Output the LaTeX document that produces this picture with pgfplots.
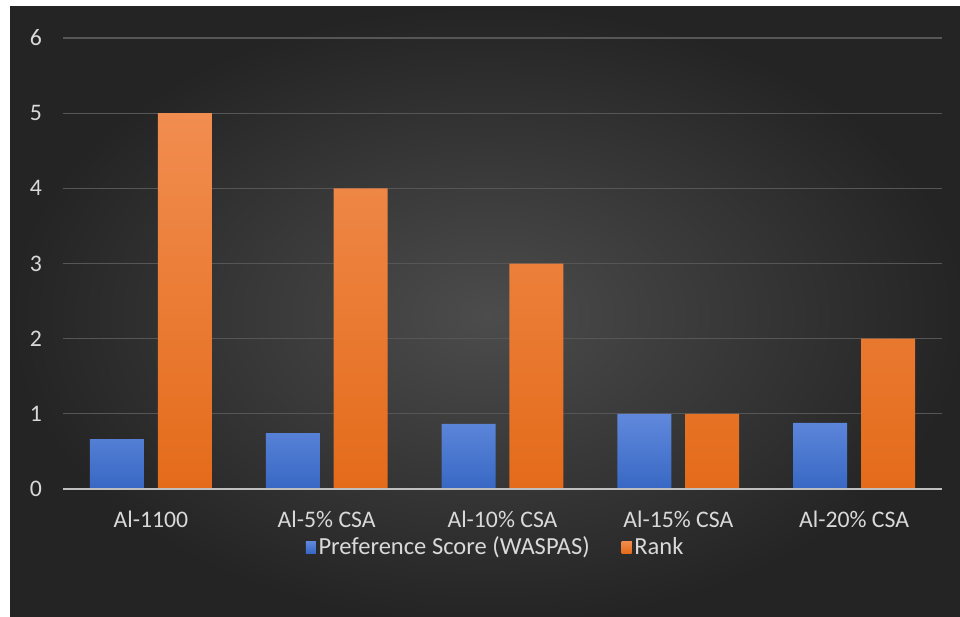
\documentclass[border=0pt]{standalone}
\usepackage{fontspec}
\setmainfont{Carlito}
\usepackage{pgfplots}
\pgfplotsset{compat=1.18}
\definecolor{bgin}{RGB}{76,76,76}
\definecolor{bgout}{RGB}{36,36,36}
\definecolor{gridc}{RGB}{86,86,86}
\definecolor{axisc}{RGB}{191,191,191}
\definecolor{labc}{RGB}{217,217,217}
\definecolor{blueT}{RGB}{96,137,220}
\definecolor{blueB}{RGB}{56,104,196}
\definecolor{blueL}{RGB}{68,114,214}
\definecolor{orT}{RGB}{241,141,80}
\definecolor{orB}{RGB}{228,107,26}
\definecolor{orL}{RGB}{237,125,49}
\begin{document}
\begin{tikzpicture}
\fill[white] (0,0) rectangle (720pt,-462.75pt);
\fill[bgout] (7.5pt,-5.25pt) rectangle (725pt,-468pt);
\begin{scope}
\clip (7.5pt,-5.25pt) rectangle (725pt,-468pt);
\shade[inner color=bgin, outer color=bgout] (7.5pt,-5.25pt) rectangle (725pt,-468pt);
\end{scope}
\begin{axis}[
  at={(47.25pt,-366.75pt)}, anchor=south west,
  scale only axis, width=659.25pt, height=338.25pt,
  xmin=-0.5, xmax=4.5, ymin=0, ymax=6,
  axis line style={draw=none},
  major tick length=0pt,
  ymajorgrids, grid style={color=gridc, line width=0.9pt},
  ytick={0,1,2,3,4,5,6},
  xtick={0,1,2,3,4},
  xticklabels={Al-1100, Al-5\% CSA, Al-10\% CSA, Al-15\% CSA, Al-20\% CSA},
  /pgf/number format/assume math mode=true,
  tick label style={font=\fontsize{17.8}{20}\selectfont, color=labc},
  xticklabel style={anchor=north, yshift=-13.2pt},
  yticklabel style={anchor=east, xshift=-12.3pt},
  ybar, bar width=0.307,
  legend columns=2,
  legend style={at={(0.4926,-0.1286)}, anchor=center, draw=none, fill=none,
    font=\fontsize{18.4}{20}\selectfont, text=labc,
    /tikz/every even column/.append style={column sep=22pt}},
]
\addplot[draw=none, top color=blueT, bottom color=blueB, bar shift=-0.193,
  legend image code/.code={\fill[blueL] (0pt,-4.5pt) rectangle (7.5pt,4.5pt);}]
  coordinates {(0,0.665) (1,0.745) (2,0.865) (3,1.0) (4,0.88)};
\addplot[draw=none, top color=orT, bottom color=orB, bar shift=0.193,
  legend image code/.code={\fill[orL] (0pt,-4.5pt) rectangle (7.5pt,4.5pt);}]
  coordinates {(0,5) (1,4) (2,3) (3,1) (4,2)};
\legend{Preference Score (WASPAS), Rank}
\draw[axisc, line width=1.9pt] (axis cs:-0.5,0) -- (axis cs:4.5,0);
\end{axis}
\pgfresetboundingbox
\useasboundingbox (0,0) rectangle (720pt,-462.75pt);
\end{tikzpicture}
\end{document}
